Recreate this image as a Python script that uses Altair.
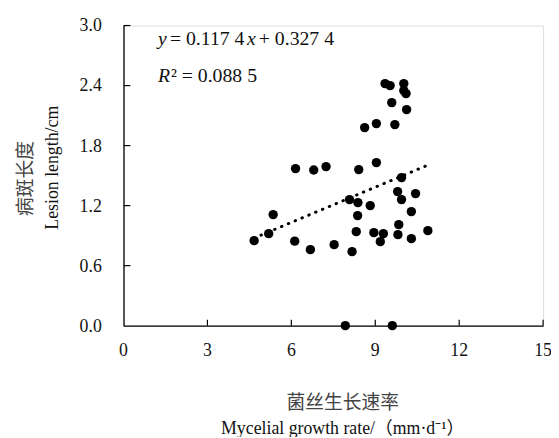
import altair as alt
import pandas as pd

# Scatter data: mycelial growth rate (mm/d) vs lesion length (cm)
growth = [4.67, 5.19, 5.35, 6.12, 6.15, 6.68, 6.80, 7.24, 7.53, 7.93,
          8.08, 8.17, 8.32, 8.37, 8.38, 8.41, 8.62, 8.82, 8.95, 9.04,
          9.04, 9.18, 9.29, 9.35, 9.53, 9.59, 9.61, 9.70, 9.80, 9.81,
          9.84, 9.94, 9.94, 10.02, 10.02, 10.10, 10.12, 10.29, 10.29, 10.44,
          10.88]
lesion = [0.85, 0.92, 1.11, 0.845, 1.57, 0.76, 1.556, 1.59, 0.81, 0.0,
          1.26, 0.74, 0.94, 1.10, 1.23, 1.56, 1.98, 1.20, 0.93, 1.63,
          2.02, 0.84, 0.92, 2.42, 2.40, 2.23, 0.0, 2.01, 1.34, 0.91,
          1.01, 1.48, 1.26, 2.42, 2.35, 2.32, 2.16, 1.14, 0.87, 1.32,
          0.95]

# Trend line end points (y = 0.1174x + 0.3274)
trend_x = [4.67, 10.88]
trend_y = [0.876, 1.605]

x_ticks = [0, 3, 6, 9, 12, 15]
x_tick_labels = ["0", "3", "6", "9", "12", "15"]
y_ticks = [0.0, 0.6, 1.2, 1.8, 2.4, 3.0]
y_tick_labels = ["0.0", "0.6", "1.2", "1.8", "2.4", "3.0"]
x_inner_ticks = [3, 6, 9, 12, 15]
y_inner_ticks = [0.6, 1.2, 1.8, 2.4, 3.0]

SERIF = "Liberation Serif, Times New Roman, Noto Sans CJK SC"
W, H = 425, 304

pts = pd.DataFrame({"x": growth, "y": lesion})
trend = pd.DataFrame({"x": trend_x, "y": trend_y})

xs = alt.Scale(domain=[0, 15], nice=False, zero=False)
ys = alt.Scale(domain=[0, 3], nice=False, zero=False)

points = alt.Chart(pts).mark_point(
    shape="circle", filled=True, color="black", size=90, opacity=1
).encode(
    x=alt.X("x:Q", scale=xs, axis=alt.Axis(
        values=x_ticks, title=None, grid=False, ticks=False, labels=False,
        domainColor="black", domainWidth=1.3)),
    y=alt.Y("y:Q", scale=ys, axis=alt.Axis(
        values=y_ticks, title=None, grid=False, ticks=False, labels=False,
        domainColor="black", domainWidth=1.3)),
)

line = alt.Chart(trend).mark_line(
    color="black", strokeWidth=3, strokeDash=[0.5, 7], strokeCap="round"
).encode(x=alt.X("x:Q"), y=alt.Y("y:Q"))

xt = alt.Chart(pd.DataFrame({"x": x_inner_ticks})).mark_rule(
    color="black", strokeWidth=1.2
).encode(x=alt.X("x:Q"), y=alt.value(H), y2=alt.value(H - 6))

yt = alt.Chart(pd.DataFrame({"y": y_inner_ticks})).mark_rule(
    color="black", strokeWidth=1.2
).encode(y=alt.Y("y:Q"), x=alt.value(0), x2=alt.value(7))

# Tick labels as text marks (serif)
xl = alt.Chart(pd.DataFrame({"x": x_ticks, "t": x_tick_labels})).mark_text(
    font="Liberation Serif", fontSize=18, color="#111", align="center", baseline="middle"
).encode(x=alt.X("x:Q"), y=alt.value(H + 26), text="t:N")

yl = alt.Chart(pd.DataFrame({"y": y_ticks, "t": y_tick_labels})).mark_text(
    font="Liberation Serif", fontSize=18, color="#111", align="right", baseline="middle", dy=1
).encode(y=alt.Y("y:Q"), x=alt.value(-22), text="t:N")

# Annotation texts
ann_text = ["y", "= 0.117 4", "x", "+ 0.327 4", "R", "² = 0.088 5"]
ann_style = ["italic", "normal", "italic", "normal", "italic", "normal"]
ann_px = [35, 47, 125, 137, 35, 48]
ann_py = [20, 20, 20, 20, 57, 57]

ann_layers = []
for t, s, px, py in zip(ann_text, ann_style, ann_px, ann_py):
    ann_layers.append(
        alt.Chart(pd.DataFrame({"t": [t]})).mark_text(
            font=SERIF, fontSize=20, fontStyle=s, align="left",
            baseline="alphabetic", color="#111"
        ).encode(text="t:N", x=alt.value(px), y=alt.value(py))
    )

# Axis titles
xt_cn = alt.Chart(pd.DataFrame({"t": ["菌丝生长速率"]})).mark_text(
    font="Noto Sans CJK SC", fontSize=19, color="#444", align="center", baseline="middle"
).encode(text="t:N", x=alt.value(222), y=alt.value(382))
xt_en = alt.Chart(pd.DataFrame({"t": ["Mycelial growth rate/（mm·d⁻¹）"]})).mark_text(
    font=SERIF, fontSize=18, color="#111", align="center", baseline="middle"
).encode(text="t:N", x=alt.value(222), y=alt.value(409))
yt_cn = alt.Chart(pd.DataFrame({"t": ["病斑长度"]})).mark_text(
    font="Noto Sans CJK SC", fontSize=19, color="#444", align="center", baseline="middle",
    angle=270
).encode(text="t:N", x=alt.value(-99), y=alt.value(155))
yt_en = alt.Chart(pd.DataFrame({"t": ["Lesion length/cm"]})).mark_text(
    font=SERIF, fontSize=18, color="#111", align="center", baseline="middle",
    angle=270
).encode(text="t:N", x=alt.value(-71), y=alt.value(144))

chart = alt.layer(
    points, xt, yt, line, xl, yl, *ann_layers, xt_cn, xt_en, yt_cn, yt_en
).properties(
    width=W, height=H,
    autosize=alt.AutoSizeParams(type="none"),
    padding={"left": 117, "top": 15, "right": 8, "bottom": 110},
).configure_view(stroke=None).configure(background="white")

chart.save("out.html", embed_options={"renderer": "svg", "actions": False})
